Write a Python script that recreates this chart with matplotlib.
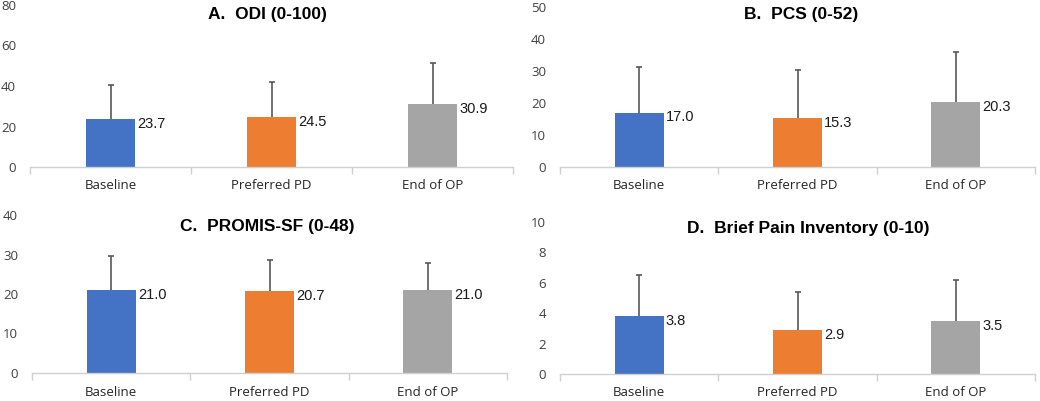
"""Four-panel bar chart: mean (+SD) patient-reported outcomes at three time points."""

import matplotlib

matplotlib.use("Agg")
import matplotlib.pyplot as plt
import numpy as np

categories = ["Baseline", "Preferred PD", "End of OP"]
bar_colors = ["#4472C4", "#ED7D31", "#A5A5A5"]

odi_mean = [23.7, 24.5, 30.9]
odi_sd = [17.0, 17.3, 20.5]

pcs_mean = [17.0, 15.3, 20.3]
pcs_sd = [14.2, 15.0, 15.5]

promis_mean = [21.0, 20.7, 21.0]
promis_sd = [8.6, 7.9, 6.8]

bpi_mean = [3.8, 2.9, 3.5]
bpi_sd = [2.7, 2.5, 2.7]

W, H = 1040, 401
fig = plt.figure(figsize=(W / 100, H / 100), dpi=100)


def add_px_axes(left, right, bottom, top):
    return fig.add_axes([left / W, 1 - bottom / H, (right - left) / W, (bottom - top) / H])


def draw_panel(ax, means, sds, ymax, ystep, title, title_xy):
    x = np.arange(len(categories))
    ax.bar(x, means, width=0.31, color=bar_colors, zorder=2)
    # upper-only error bars (Excel "plus" style): hide the lower cap
    _, caps, _ = ax.errorbar(x, means, yerr=[np.zeros(len(sds)), sds], fmt="none",
                             ecolor="#595959", elinewidth=1.2, capsize=2.5,
                             capthick=1.2, zorder=3)
    caps[0].set_visible(False)
    for xi, m in zip(x, means):
        ax.annotate(f"{m:.1f}", (xi + 0.155, m), xytext=(1.5, -3.5),
                    textcoords="offset points", ha="left", va="center",
                    fontsize=10.5, family="Liberation Sans", color="#1a1a1a", zorder=4)
    ax.set_xlim(-0.5, len(categories) - 0.5)
    ax.set_ylim(0, ymax)
    ax.set_yticks(np.arange(0, ymax + ystep / 2, ystep))
    ax.set_xticks(x)
    ax.set_xticklabels(categories)
    ax.set_xticks(np.arange(-0.5, len(categories)), minor=True)
    ax.tick_params(axis="x", which="major", length=0, pad=9, labelsize=9.5,
                   labelcolor="#262626")
    ax.tick_params(axis="x", which="minor", length=5, color="#d0d0d0", width=1)
    ax.tick_params(axis="y", length=0, pad=10, labelsize=9.5, labelcolor="#404040")
    for lab in ax.get_xticklabels() + ax.get_yticklabels():
        lab.set_family("Open Sans")
    for side in ("top", "right", "left"):
        ax.spines[side].set_visible(False)
    ax.spines["bottom"].set_color("#d0d0d0")
    ax.spines["bottom"].set_linewidth(1)
    ax.patch.set_alpha(0)
    fig.text(title_xy[0] / W, 1 - title_xy[1] / H, title, ha="center", va="center",
             fontsize=12.5, fontweight="bold", family="Liberation Sans", color="#000000")


ax_a = add_px_axes(30, 513, 167, 5)
draw_panel(ax_a, odi_mean, odi_sd, 80, 20, "A.  ODI (0-100)", (267, 14))

ax_b = add_px_axes(560, 1035, 167, 7)
draw_panel(ax_b, pcs_mean, pcs_sd, 50, 10, "B.  PCS (0-52)", (801, 14))

ax_c = add_px_axes(32, 507, 373, 215)
draw_panel(ax_c, promis_mean, promis_sd, 40, 10, "C.  PROMIS-SF (0-48)", (267, 226))

ax_d = add_px_axes(560, 1035, 374, 222)
draw_panel(ax_d, bpi_mean, bpi_sd, 10, 2, "D.  Brief Pain Inventory (0-10)", (808, 228))

fig.savefig("out.png", dpi=100, facecolor="white")
